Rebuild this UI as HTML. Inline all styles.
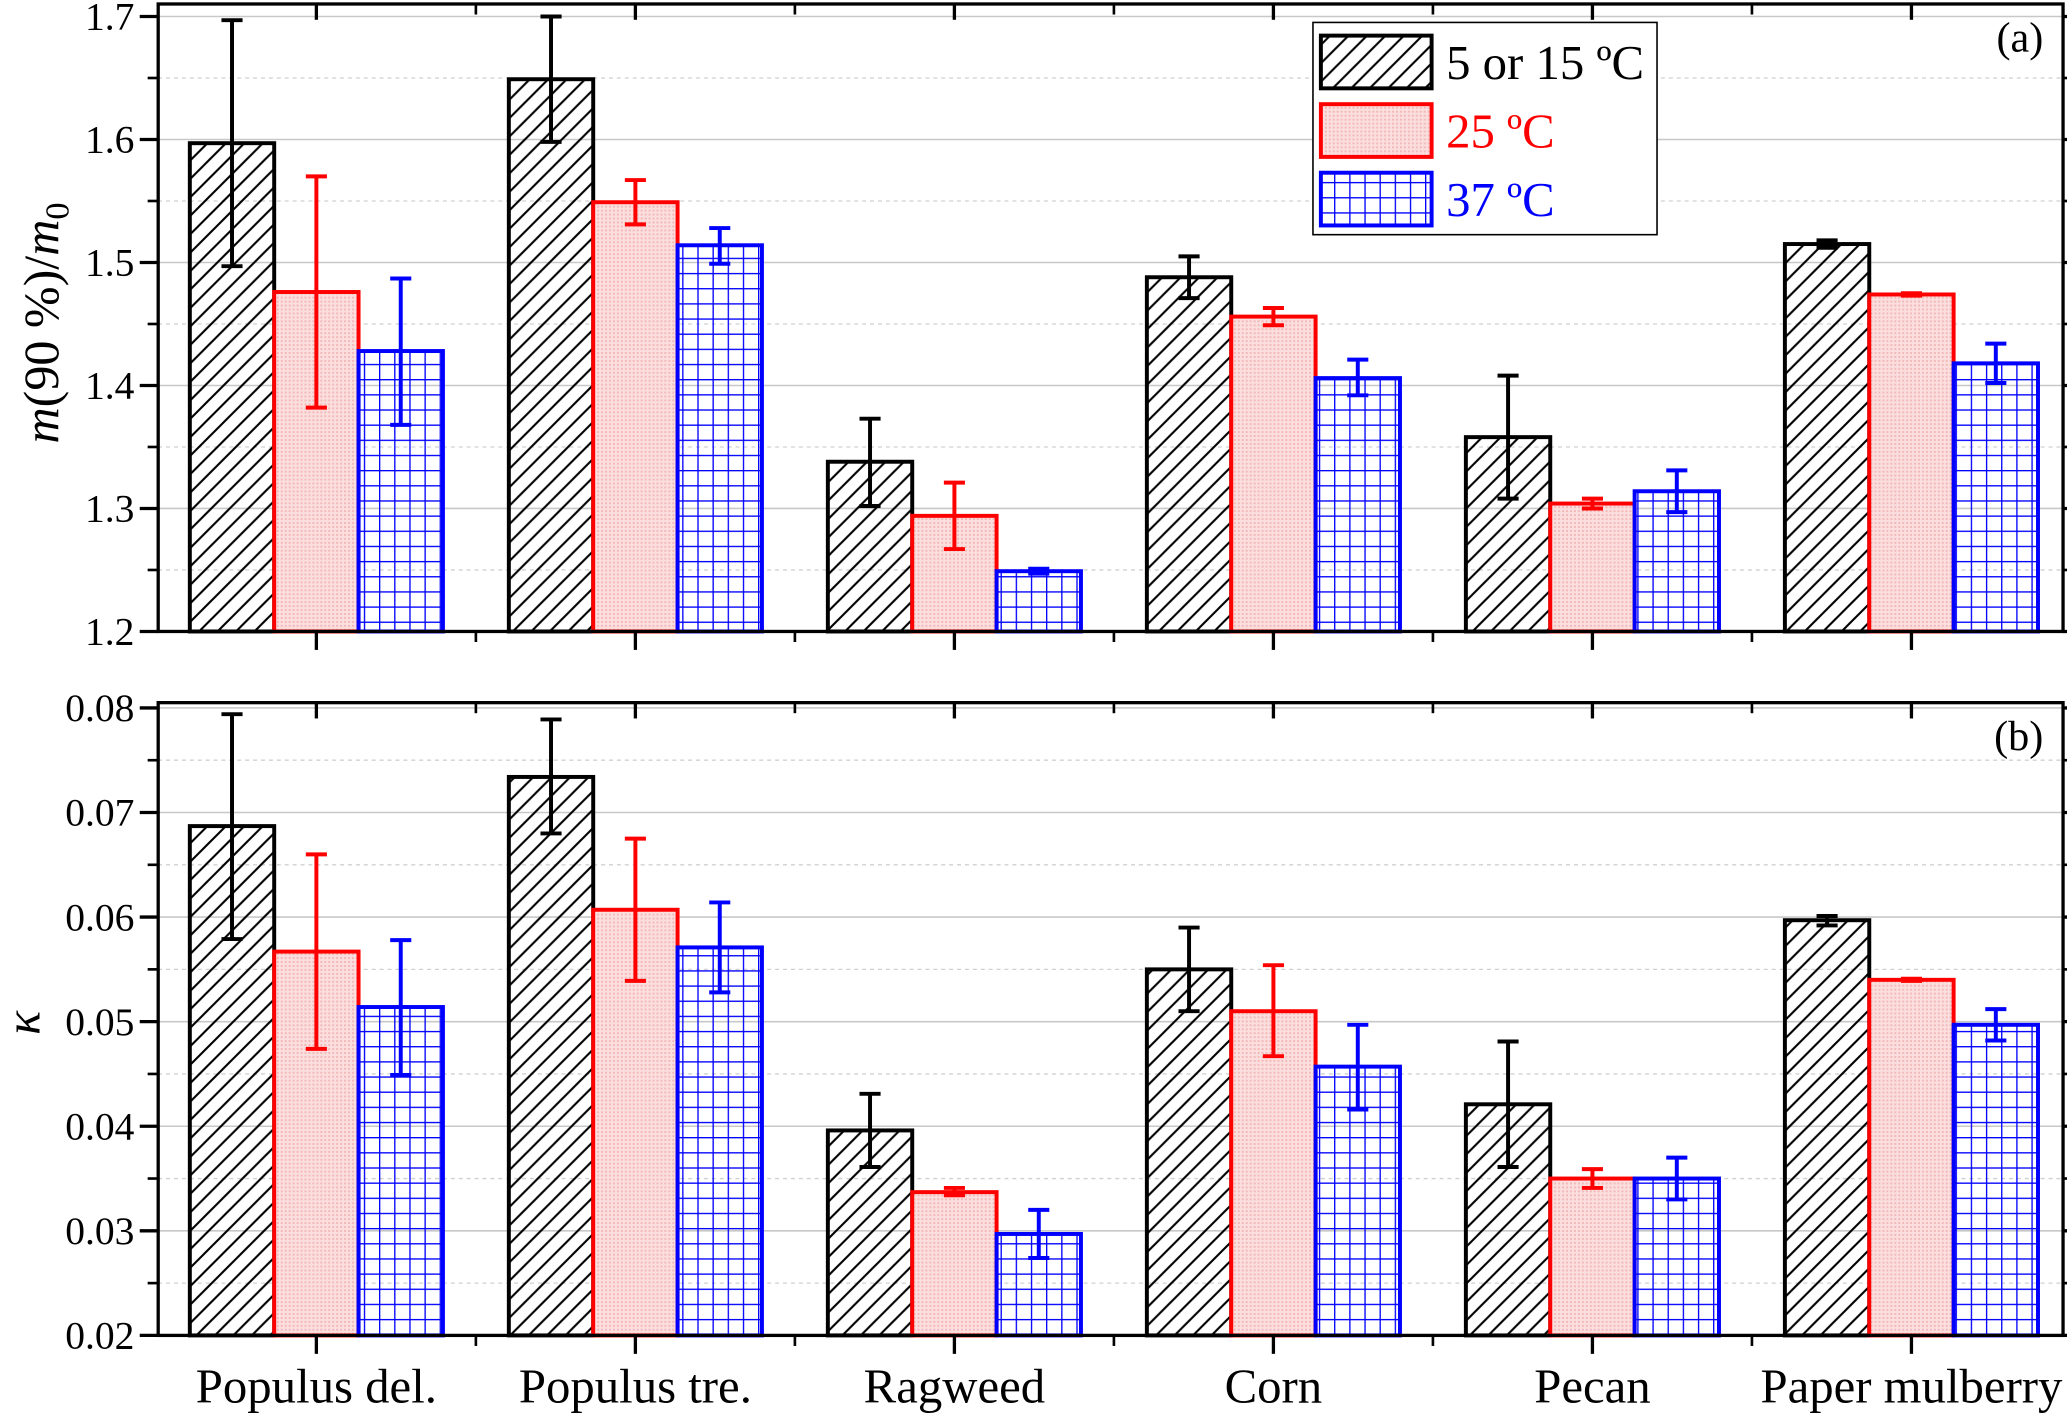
<!DOCTYPE html>
<html><head><meta charset="utf-8"><style>
html,body{margin:0;padding:0;background:#fff}
svg{display:block}
text{font-family:"Liberation Serif",serif}
</style></head><body>
<svg id="chart" width="2067" height="1414" viewBox="0 0 1568 1072.6" xmlns="http://www.w3.org/2000/svg" font-family="Liberation Serif, serif">
<defs>
<pattern id="hatch" patternUnits="userSpaceOnUse" width="14" height="14">
<path d="M-2,16 L16,-2 M-2,2 L2,-2 M12,16 L16,12" stroke="#000" stroke-width="1.6"/>
</pattern>
<pattern id="dots" patternUnits="userSpaceOnUse" width="3" height="3">
<rect width="3" height="3" fill="#fbdede"/><rect width="1.5" height="1.5" fill="#f4b8b8"/>
</pattern>
<pattern id="grid" patternUnits="userSpaceOnUse" width="11.5" height="11.5">
<path d="M0,0 H11.5 M0,0 V11.5" stroke="#0000ff" stroke-width="2"/>
</pattern>
</defs>
<g id="plot"></g>
</svg>
<script>
const categories = ["Populus del.","Populus tre.","Ragweed","Corn","Pecan","Paper mulberry"];
const seriesNames = ["5 or 15 \u00baC","25 \u00baC","37 \u00baC"];
const mCold = [1.597,1.649,1.338,1.488,1.358,1.515];
const mColdLo = [1.497,1.598,1.302,1.471,1.308,1.512];
const mColdHi = [1.697,1.700,1.373,1.505,1.408,1.518];
const m25 = [1.476,1.549,1.294,1.456,1.304,1.474];
const m25Lo = [1.382,1.531,1.267,1.449,1.300,1.473];
const m25Hi = [1.570,1.567,1.321,1.463,1.308,1.475];
const m37 = [1.428,1.514,1.249,1.406,1.314,1.418];
const m37Lo = [1.368,1.499,1.247,1.392,1.297,1.402];
const m37Hi = [1.487,1.528,1.251,1.421,1.331,1.434];
const kCold = [0.0687,0.0734,0.0396,0.0550,0.0421,0.0597];
const kColdLo = [0.0579,0.0680,0.0361,0.0510,0.0361,0.0592];
const kColdHi = [0.0794,0.0789,0.0431,0.0590,0.0481,0.0601];
const k25 = [0.0567,0.0607,0.0337,0.0510,0.0350,0.0540];
const k25Lo = [0.0474,0.0539,0.0334,0.0467,0.0341,0.0539];
const k25Hi = [0.0660,0.0675,0.0341,0.0554,0.0359,0.0541];
const k37 = [0.0514,0.0571,0.0297,0.0457,0.0350,0.0497];
const k37Lo = [0.0449,0.0528,0.0274,0.0416,0.0330,0.0482];
const k37Hi = [0.0578,0.0614,0.0320,0.0497,0.0370,0.0512];
const topTicks = ["1.2","1.3","1.4","1.5","1.6","1.7"];
const botTicks = ["0.02","0.03","0.04","0.05","0.06","0.07","0.08"];

const NS="http://www.w3.org/2000/svg";
const root=document.getElementById('plot');
function mk(tag,attrs,parent){const e=document.createElementNS(NS,tag);for(const k in attrs)e.setAttribute(k,attrs[k]);if(tag==='text')e.setAttribute('font-family','Liberation Serif, serif');(parent||root).appendChild(e);return e;}
const L=120,R=1565,catStep=242,catX0=240,barW=64;
const xC=i=>catX0+i*catStep;
const fills=["url(#hatch)","url(#dots)","url(#grid)"];
const strokes=["#000","#ff0000","#0000ff"];

function panel(cfg){
  const y=v=>cfg.y0-(v-cfg.vmin)/(cfg.vmax-cfg.vmin)*(cfg.y0-cfg.y1);
  const g=mk('g',{});
  
  
  const step=(cfg.vmax-cfg.vmin)/(cfg.ticks.length-1);
  cfg.ticks.forEach((t,i)=>{
    const v=cfg.vmin+i*step, yy=y(v);
    if(i>0){const gl=mk('line',{x1:L,x2:R,y1:yy,y2:yy,stroke:'#c8c8c8','stroke-width':1.2},g);}
    if(i<cfg.ticks.length-1){const ym=y(v+step/2);mk('line',{x1:L,x2:R,y1:ym,y2:ym,stroke:'#d0d0d0','stroke-width':1,'stroke-dasharray':'3,3'},g);
      mk('line',{x1:L-8,x2:L,y1:ym,y2:ym,stroke:'#000','stroke-width':2},g);mk('line',{x1:R,x2:R+8,y1:ym,y2:ym,stroke:'#000','stroke-width':2},g);}
    mk('line',{x1:L-14,x2:L,y1:yy,y2:yy,stroke:'#000','stroke-width':2.5},g);
    mk('line',{x1:R,x2:R+14,y1:yy,y2:yy,stroke:'#000','stroke-width':2.5},g);
    const tx=mk('text',{x:L-18,y:yy+10,'text-anchor':'end','font-size':30},g);tx.textContent=t;
    
  });
  cfg.series.forEach((s,si)=>{
    categories.forEach((c,ci)=>{
      const x=xC(ci)-barW*1.5+si*barW;
      const r=mk('rect',{x:x,y:y(s.v[ci]),width:barW,height:cfg.y0-y(s.v[ci]),fill:fills[si],stroke:strokes[si],'stroke-width':3},g);
      
      
      const ex=x+barW/2;
      const eb=mk('path',{d:`M${ex-8},${y(s.hi[ci])}H${ex+8}M${ex},${y(s.hi[ci])}V${y(s.lo[ci])}M${ex-8},${y(s.lo[ci])}H${ex+8}`,stroke:strokes[si],'stroke-width':3,fill:'none'},g);
      
      
    });
  });
  mk('rect',{x:L,y:cfg.top,width:R-L,height:cfg.y0-cfg.top,fill:'none',stroke:'#000','stroke-width':2.5},g);
  categories.forEach((c,ci)=>{
    mk('line',{x1:xC(ci),x2:xC(ci),y1:cfg.y0,y2:cfg.y0+14,stroke:'#000','stroke-width':2.5},g);
    mk('line',{x1:xC(ci),x2:xC(ci),y1:cfg.top,y2:cfg.top+12,stroke:'#000','stroke-width':2.5},g);
    const mx=xC(ci)+catStep/2;
    if(ci<categories.length-1){mk('line',{x1:mx,x2:mx,y1:cfg.y0,y2:cfg.y0+8,stroke:'#000','stroke-width':2},g);mk('line',{x1:mx,x2:mx,y1:cfg.top,y2:cfg.top+8,stroke:'#000','stroke-width':2},g);}
  });
  const lb=mk('text',{x:1550,y:cfg.top+36,'text-anchor':'end','font-size':32},g);lb.textContent=cfg.label;
  
}
panel({name:'panel-a',vmin:1.2,vmax:1.7,y0:479,y1:12.5,top:3,ticks:topTicks,label:'(a)',
  series:[{v:mCold,lo:mColdLo,hi:mColdHi},{v:m25,lo:m25Lo,hi:m25Hi},{v:m37,lo:m37Lo,hi:m37Hi}]});
panel({name:'panel-b',vmin:0.02,vmax:0.08,y0:1013,y1:537,top:533,ticks:botTicks,label:'(b)',
  series:[{v:kCold,lo:kColdLo,hi:kColdHi},{v:k25,lo:k25Lo,hi:k25Hi},{v:k37,lo:k37Lo,hi:k37Hi}]});
categories.forEach((c,ci)=>{
  const t=mk('text',{x:xC(ci),y:1064,'text-anchor':'middle','font-size':37});t.textContent=c;
  
  
});
const yt=mk('text',{transform:'translate(44,245) rotate(-90)','text-anchor':'middle','font-size':38});


yt.innerHTML='<tspan font-style="italic">m</tspan>(90 %)/<tspan font-style="italic">m</tspan><tspan font-size="26" dy="8">0</tspan>';
const yt2=mk('text',{transform:'translate(30,776) rotate(-90)','text-anchor':'middle','font-size':38,'font-style':'italic'});
yt2.textContent='\u03ba';


const lg=mk('g',{});


mk('rect',{x:996,y:17,width:261,height:161,fill:'#fff',stroke:'#000','stroke-width':1.2},lg);
seriesNames.forEach((n,i)=>{
  const yy=27+i*52;
  const sw=mk('rect',{x:1002,y:yy,width:84,height:40,fill:fills[i],stroke:strokes[i],'stroke-width':3},lg);
  
  
  const t=mk('text',{x:1097,y:yy+33,'font-size':37,fill:strokes[i]},lg);t.textContent=n;
  
  
});
</script>
</body></html>
